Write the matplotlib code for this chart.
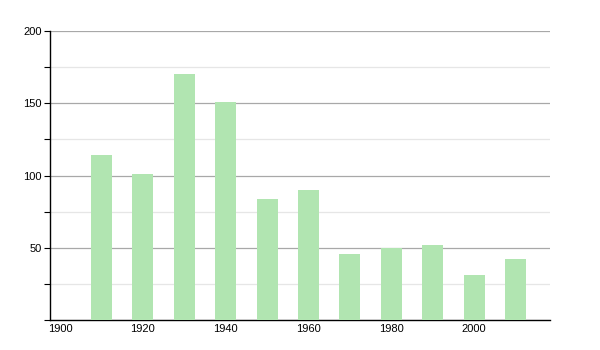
import matplotlib
matplotlib.use("Agg")
import matplotlib.pyplot as plt
from matplotlib.ticker import MultipleLocator

# Data
years = [1910, 1920, 1930, 1940, 1950, 1960, 1970, 1980, 1990, 2000, 2010]
values = [114, 101, 170, 151, 84, 90, 46, 50, 52, 31, 42]
x_ticks = [1900, 1920, 1940, 1960, 1980, 2000]
y_ticks = [50, 100, 150, 200]

plt.rcParams['font.family'] = ['Liberation Sans', 'DejaVu Sans']

fig = plt.figure(figsize=(6, 3.5), dpi=100)
ax = fig.add_axes([0.0833, 0.0857, 0.8334, 0.8257])

ax.bar(years, values, width=5.1, color='#b1e5b1', zorder=3)

ax.set_xlim(1897.6, 2018.3)
ax.set_ylim(0, 200)
ax.set_xticks(x_ticks)
ax.set_yticks(y_ticks)
ax.yaxis.set_minor_locator(MultipleLocator(25))

ax.grid(axis='y', which='major', color='#a8a8a8', linewidth=0.9, zorder=0)
ax.grid(axis='y', which='minor', color='#e6e6e6', linewidth=0.9, zorder=0)

for side in ['top', 'right']:
    ax.spines[side].set_visible(False)
ax.spines['left'].set_linewidth(1.0)
ax.spines['bottom'].set_linewidth(1.0)

ax.tick_params(axis='x', length=0, pad=3, labelsize=8)
ax.tick_params(axis='y', which='both', length=4, width=0.8, labelsize=8, pad=2)

fig.savefig('out.png', dpi=100)
